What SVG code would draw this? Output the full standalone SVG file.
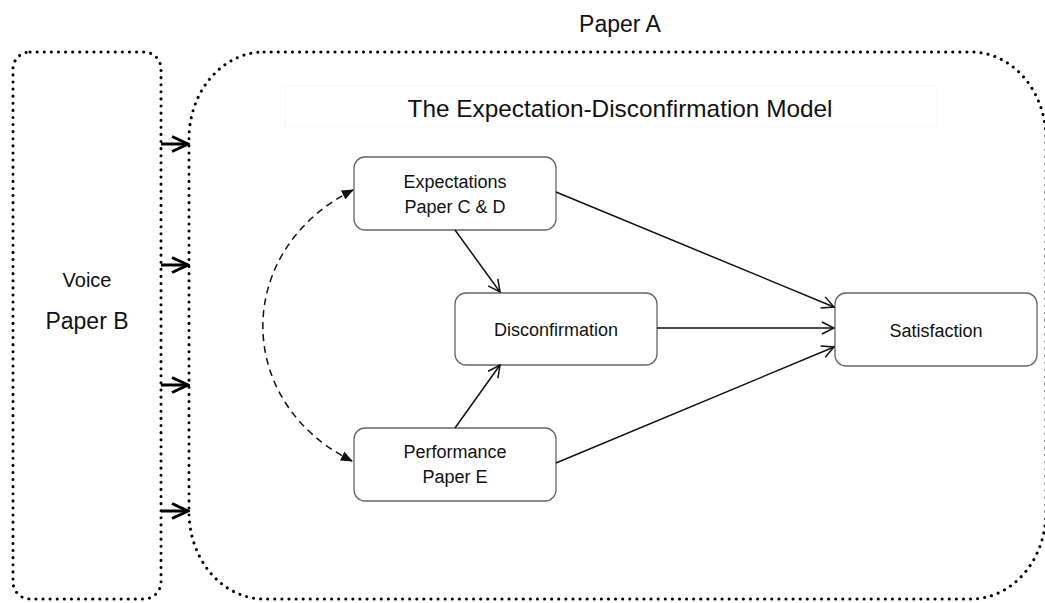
<svg xmlns="http://www.w3.org/2000/svg" width="1045" height="603" viewBox="0 0 1045 603">
<style>
text{font-family:"Liberation Sans",Arial,sans-serif;fill:#111;text-anchor:middle}
.dot{fill:none;stroke:#000;stroke-width:3;stroke-linecap:round;stroke-dasharray:0.1 7}
.node{fill:#fff;stroke:#666;stroke-width:1.3}
.edge{fill:none;stroke:#111;stroke-width:1.5}
.thick{fill:none;stroke:#000;stroke-width:3}
.dash{fill:none;stroke:#111;stroke-width:1.5;stroke-dasharray:7 5}
.nt{font-size:18px}
</style>
<defs>
<marker id="open" viewBox="0 0 14 14" refX="13" refY="7" markerWidth="14" markerHeight="14" markerUnits="userSpaceOnUse" orient="auto">
<path d="M1,1 L13,7 L1,13" fill="none" stroke="#111" stroke-width="1.5"/>
</marker>
<marker id="bold" viewBox="0 0 20 18" refX="18" refY="9" markerWidth="20" markerHeight="18" markerUnits="userSpaceOnUse" orient="auto">
<path d="M2,1.5 L18,9 L2,16.5" fill="none" stroke="#000" stroke-width="3"/>
</marker>
<marker id="tri" viewBox="0 0 12 10" refX="11" refY="5" markerWidth="12" markerHeight="10" markerUnits="userSpaceOnUse" orient="auto-start-reverse">
<path d="M0,0 L12,5 L0,10 Z" fill="#111"/>
</marker>
</defs>
<rect width="1045" height="603" fill="#fff"/>
<g id="paperA">
<rect class="dot" x="189" y="52" width="857" height="547" rx="75" ry="87"/>
<text x="620" y="32" font-size="23">Paper A</text>
<rect x="285" y="86" width="652" height="40" fill="#fff" stroke="#f8f8f8" stroke-width="1"/>
<text x="620" y="117" font-size="24" textLength="425" lengthAdjust="spacingAndGlyphs">The Expectation-Disconfirmation Model</text>
</g>
<g id="paperB">
<rect class="dot" x="13" y="52" width="148" height="547" rx="17" ry="17"/>
<text x="87" y="287" font-size="20">Voice</text>
<text x="87" y="329" font-size="23">Paper B</text>
</g>
<g id="expectations">
<rect class="node" x="354" y="157" width="202" height="73" rx="11"/>
<text class="nt" x="455" y="188">Expectations</text>
<text class="nt" x="455" y="213">Paper C &amp; D</text>
</g>
<g id="disconfirmation">
<rect class="node" x="455" y="293" width="202" height="72" rx="11"/>
<text class="nt" x="556" y="336">Disconfirmation</text>
</g>
<g id="performance">
<rect class="node" x="354" y="428" width="202" height="73" rx="11"/>
<text class="nt" x="455" y="458">Performance</text>
<text class="nt" x="455" y="483">Paper E</text>
</g>
<g id="satisfaction">
<rect class="node" x="835" y="293" width="202" height="73" rx="11"/>
<text class="nt" x="936" y="337">Satisfaction</text>
</g>
<g id="connectors">
<path class="thick" d="M161,144 H188" marker-end="url(#bold)"/>
<path class="thick" d="M161,265 H188" marker-end="url(#bold)"/>
<path class="thick" d="M161,385 H188" marker-end="url(#bold)"/>
<path class="thick" d="M161,511 H188" marker-end="url(#bold)"/>
<path class="edge" d="M556,192 L834,307" marker-end="url(#open)"/>
<path class="edge" d="M455,230 L500,292" marker-end="url(#open)"/>
<path class="edge" d="M657,328 L834,328" marker-end="url(#open)"/>
<path class="edge" d="M455,428 L500,365" marker-end="url(#open)"/>
<path class="edge" d="M556,463 L834,347" marker-end="url(#open)"/>
<path class="dash" d="M353,190 C233,250 233,402 352,461" marker-start="url(#tri)" marker-end="url(#tri)"/>
</g>
</svg>
